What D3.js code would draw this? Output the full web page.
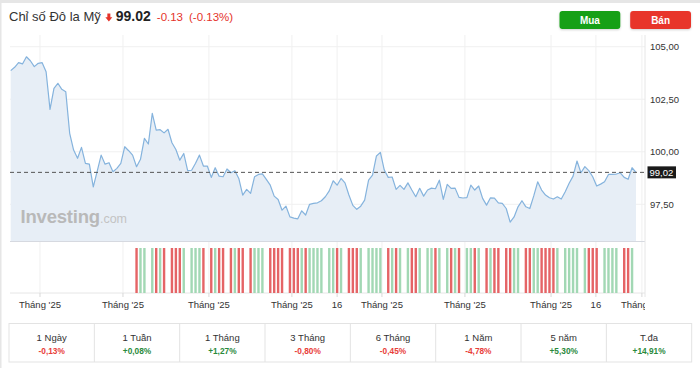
<!DOCTYPE html>
<html><head><meta charset="utf-8">
<script src="https://cdn.jsdelivr.net/npm/d3@7"></script>
<style>
html,body{margin:0;padding:0;background:#fff;}
svg{display:block;font-family:"Liberation Sans",Arial,Helvetica,sans-serif;}
</style>
</head><body>
<svg id="c" width="700" height="368"></svg>
<script>
// ---------------- DATA ----------------
const title = "Chỉ số Đô la Mỹ";
const lastPrice = 99.02;
const change = -0.13;
const changePct = -0.13;
const buttonLabels = ["Mua", "Bán"];

const prices = [
  103.86,104.02,104.24,104.18,104.52,104.33,104.05,104.21,104.24,103.81,
  102.02,103.02,103.26,102.97,102.86,100.88,100.08,99.69,100.21,99.45,
  99.41,98.33,99.08,99.84,99.41,99.48,99.05,99.21,99.45,100.24,
  100.05,99.84,99.29,99.64,100.64,100.37,101.83,101.03,101.05,100.90,
  101.07,100.43,100.11,99.60,99.92,99.10,99.12,99.45,99.84,99.32,
  99.32,98.78,99.24,98.84,98.81,99.18,99.00,99.10,98.73,97.94,
  98.21,98.02,98.81,98.92,98.95,98.69,98.41,97.89,97.73,97.22,
  97.41,96.90,96.84,96.81,97.19,96.99,97.50,97.54,97.57,97.67,
  97.86,98.14,98.62,98.41,98.73,98.52,97.94,97.45,97.26,97.41,
  97.70,98.65,98.89,99.80,99.97,99.13,98.78,98.80,98.21,98.40,
  98.21,98.52,98.18,97.86,98.26,97.89,98.18,98.27,98.24,98.65,
  97.73,98.45,98.26,98.27,97.83,97.80,97.82,98.41,98.18,98.37,
  97.78,97.46,97.81,97.79,97.57,97.54,97.30,96.65,96.90,97.38,
  97.67,97.38,97.30,97.90,98.57,98.18,97.94,97.81,97.75,97.86,
  97.75,98.10,98.50,98.84,99.56,99.00,99.29,99.10,98.81,98.37,
  98.46,98.57,98.92,98.92,98.94,99.00,98.78,98.69,99.24,99.02
];

// 1 = a volume bar is shown for that session, 0 = none
const volume = [
  0,0,0,0,0,0,0,0,0,0, 0,0,0,0,0,0,0,0,0,0,
  0,0,0,0,0,0,0,0,0,0, 0,0,1,1,1,0,1,1,1,1,
  0,1,1,1,1,0,1,1,1,1, 0,1,1,1,1,0,1,1,1,1,
  0,1,1,1,1,0,1,1,1,1, 0,1,1,1,1,1,1,1,1,1,
  0,1,1,1,1,0,1,1,1,1, 0,1,1,1,1,0,1,1,1,1,
  0,1,1,1,1,0,1,1,1,1, 0,1,1,1,1,0,1,1,1,1,
  0,1,1,1,1,0,1,1,1,1, 0,1,1,1,1,1,1,1,1,1,
  0,1,1,1,1,0,1,1,1,1, 0,1,1,1,1,0,1,1,1,0
];

const yTicks = [97.5, 100, 102.5, 105];
const xTickPos = [7.45, 28.55, 50.4, 71.5, 83.0, 94.4, 115.5, 137.4, 148.8, 160.5];
const xTickLabels = ["Tháng '25","Tháng '25","Tháng '25","Tháng '25","16","Tháng '25","Tháng '25","Tháng '25","16","Tháng '25"];

const perfLabels = ["1 Ngày","1 Tuần","1 Tháng","3 Tháng","6 Tháng","1 Năm","5 năm","T.đa"];
const perfValues = [-0.13, 0.08, 1.27, -0.80, -0.45, -4.78, 5.30, 14.91];

// ---------------- CHART ----------------
const svg = d3.select("#c");
const W = 700, H = 368;
const RED = "#e5332a";
const locComma = d3.formatLocale({decimal: ",", thousands: ".", grouping: [3], currency: ["", ""], minus: "-"});
const locDot = d3.formatLocale({decimal: ".", thousands: ",", grouping: [3], currency: ["", ""], minus: "-"});
const fmt2 = locComma.format(".2f");
const fmtDot = locDot.format(".2f");
const fmtPct = v => (v > 0 ? "+" : "") + fmt2(v) + "%";

const plotL = 10, plotR = 645, plotTop = 35, plotBot = 241.5;
const volTop = 248, volBot = 293;

const x = d3.scaleLinear().domain([0, prices.length - 1]).range([10.7, 636]);
const y = d3.scaleLinear().domain([97.5, 105]).range([204.3, 46.7]);
const yv = d3.scaleLinear().domain([0, 1]).range([volBot, volTop]);

const defs = svg.append("defs");
defs.append("clipPath").attr("id", "plotclip").append("rect")
  .attr("x", 0).attr("y", 0).attr("width", plotR).attr("height", H);
const sh = defs.append("filter").attr("id", "sh").attr("x", "-20%").attr("y", "-30%").attr("width", "140%").attr("height", "180%");
sh.append("feDropShadow").attr("dx", 0).attr("dy", 1).attr("stdDeviation", 1.2).attr("flood-color", "#000").attr("flood-opacity", 0.18);

// page frame
svg.append("rect").attr("x", 0).attr("y", 0).attr("width", W).attr("height", 3).attr("fill", "#e6e6e6");
svg.append("rect").attr("x", 0).attr("y", 0).attr("width", 1.5).attr("height", H).attr("fill", "#e6e6e6");

// header
const hdr = svg.append("g");
const t1 = hdr.append("text").attr("x", 9).attr("y", 21).attr("font-size", 13).attr("fill", "#333").text(title);
let hx = 9 + t1.node().getComputedTextLength() + 5;
hdr.append("path")
  .attr("d", `M${hx+1.6},13.5 h3 v3.8 h2 l-3.5,4.2 l-3.5,-4.2 h2 z`)
  .attr("fill", RED);
hx += 10;
const t2 = hdr.append("text").attr("x", hx).attr("y", 21).attr("font-size", 14).attr("font-weight", "bold").attr("fill", "#222").text(fmtDot(lastPrice));
hx += t2.node().getComputedTextLength() + 6;
const t3 = hdr.append("text").attr("x", hx).attr("y", 21).attr("font-size", 11.5).attr("fill", RED).text(fmtDot(change));
hx += t3.node().getComputedTextLength() + 6;
hdr.append("text").attr("x", hx).attr("y", 21).attr("font-size", 11.5).attr("fill", RED).text("(" + fmtDot(changePct) + "%)");

// buttons
const btn = d3.scaleBand().domain(buttonLabels).range([559.5, 691]).paddingInner(0.14);
const bg = svg.append("g").selectAll("g").data(buttonLabels).join("g");
bg.append("rect").attr("x", d => btn(d)).attr("y", 11).attr("width", btn.bandwidth()).attr("height", 18)
  .attr("rx", 3).attr("fill", (d, i) => i === 0 ? "#14a014" : "#e8352b").attr("filter", "url(#sh)");
bg.append("text").attr("x", d => btn(d) + btn.bandwidth() / 2).attr("y", 23.5).attr("text-anchor", "middle")
  .attr("font-size", 10).attr("font-weight", "bold").attr("fill", "#fff").text(d => d);

// grid
const grid = svg.append("g").attr("clip-path", "url(#plotclip)");
grid.selectAll("line.h").data(yTicks).join("line")
  .attr("x1", plotL).attr("x2", plotR).attr("y1", d => y(d)).attr("y2", d => y(d))
  .attr("stroke", "#f0f0f0").attr("stroke-width", 1);
grid.selectAll("line.v").data(xTickPos).join("line")
  .attr("x1", d => x(d)).attr("x2", d => x(d)).attr("y1", plotTop).attr("y2", volBot)
  .attr("stroke", "#f0f0f0").attr("stroke-width", 1);

// area + line
const area = d3.area().x((d, i) => x(i)).y0(plotBot).y1(d => y(d));
const line = d3.line().x((d, i) => x(i)).y(d => y(d));
svg.append("path").datum(prices).attr("d", area).attr("fill", "#e7eef6");

// watermark
const wm = svg.append("text").attr("x", 20.5).attr("y", 222.5);
wm.append("tspan").attr("font-size", 18.5).attr("font-weight", "bold").attr("fill", "#b9b9b9").attr("letter-spacing", -0.2).text("Investing");
wm.append("tspan").attr("font-size", 12.5).attr("fill", "#c3c3c3").text(".com");

svg.append("path").datum(prices).attr("d", line).attr("fill", "none")
  .attr("stroke", "#85b3dd").attr("stroke-width", 1.2).attr("stroke-linejoin", "round");

// panel separator & axes lines
svg.append("line").attr("x1", plotL).attr("x2", plotR).attr("y1", plotBot).attr("y2", plotBot)
  .attr("stroke", "#d6d9e0").attr("stroke-width", 1);
svg.append("line").attr("x1", plotR).attr("x2", plotR).attr("y1", plotTop).attr("y2", volBot + 4)
  .attr("stroke", "#e6e6e6").attr("stroke-width", 1);
svg.append("line").attr("x1", plotL).attr("x2", plotR).attr("y1", volBot).attr("y2", volBot)
  .attr("stroke", "#e6e6e6").attr("stroke-width", 1);

// volume bars
const vdata = prices.map((p, i) => ({i, v: volume[i], up: i === 0 ? true : p >= prices[i - 1]})).filter(d => d.v > 0);
svg.append("g").selectAll("rect").data(vdata).join("rect")
  .attr("x", d => x(d.i) - 1.2).attr("width", 2.4)
  .attr("y", d => yv(d.v)).attr("height", d => yv(0) - yv(d.v))
  .attr("fill", d => d.up ? "#a2d8b4" : "#e56466");

// last price dashed line + label
svg.append("line").attr("x1", plotL).attr("x2", plotR).attr("y1", y(lastPrice)).attr("y2", y(lastPrice))
  .attr("stroke", "#555").attr("stroke-width", 1).attr("stroke-dasharray", "4,3");
svg.append("rect").attr("x", 647.5).attr("y", y(lastPrice) - 6).attr("width", 28.5).attr("height", 12).attr("fill", "#1a1a1a");
svg.append("text").attr("x", 649.5).attr("y", y(lastPrice)).attr("dy", "0.35em").attr("font-size", 9.5)
  .attr("fill", "#fff").text(fmt2(lastPrice));

// y axis labels
svg.append("g").selectAll("text").data(yTicks).join("text")
  .attr("x", 650).attr("y", d => y(d)).attr("dy", "0.35em").attr("font-size", 9.5).attr("fill", "#333")
  .text(d => fmt2(d));

// x axis ticks and labels
const xa = svg.append("g").attr("clip-path", "url(#plotclip)");
xa.selectAll("line").data(xTickPos).join("line")
  .attr("x1", d => x(d)).attr("x2", d => x(d)).attr("y1", volBot).attr("y2", volBot + 4)
  .attr("stroke", "#d8d8d8");
xa.selectAll("text").data(xTickPos).join("text")
  .attr("x", d => x(d)).attr("y", 308).attr("text-anchor", "middle").attr("font-size", 9.5).attr("fill", "#333")
  .text((d, i) => xTickLabels[i]);

// performance table
const cell = d3.scaleBand().domain(perfLabels).range([9, 691.7]);
const tbl = svg.append("g");
tbl.append("rect").attr("x", 9).attr("y", 323.5).attr("width", 682.7).attr("height", 38.5)
  .attr("fill", "#fff").attr("stroke", "#e3e3e3");
tbl.selectAll("line").data(perfLabels.slice(1)).join("line")
  .attr("x1", d => cell(d)).attr("x2", d => cell(d)).attr("y1", 323.5).attr("y2", 362)
  .attr("stroke", "#e3e3e3");
tbl.selectAll("text.l").data(perfLabels).join("text").attr("class", "l")
  .attr("x", d => cell(d) + cell.bandwidth() / 2).attr("y", 340.5).attr("text-anchor", "middle")
  .attr("font-size", 9.5).attr("fill", "#333").text(d => d);
tbl.selectAll("text.v").data(perfValues).join("text").attr("class", "v")
  .attr("x", (d, i) => cell(perfLabels[i]) + cell.bandwidth() / 2).attr("y", 353.5).attr("text-anchor", "middle")
  .attr("font-size", 8.3).attr("font-weight", "bold").attr("fill", d => d < 0 ? "#e8403a" : "#2a8a3c")
  .text(d => fmtPct(d));
</script>
</body></html>
